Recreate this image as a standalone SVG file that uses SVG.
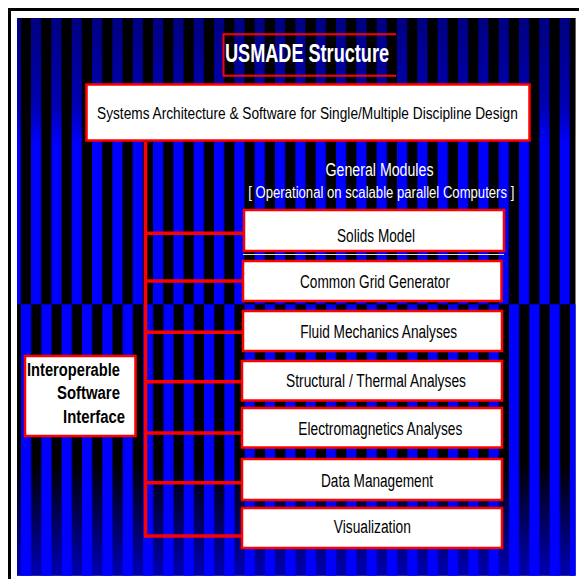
<svg xmlns="http://www.w3.org/2000/svg" width="579" height="579" viewBox="0 0 579 579">
<style>
.box{fill:#fff;stroke:#ff0000;stroke-width:2.5}
.t{font-family:"Liberation Sans",Arial,sans-serif;fill:#000}
.m{font-size:18px;text-anchor:middle}
.w{fill:#fff}
.conn{stroke:#ff0000;stroke-width:3.5;fill:none}
</style>
<defs>
<pattern id="pTop" patternUnits="userSpaceOnUse" x="10.667" y="0" width="20.333" height="20"><rect x="0" y="0" width="10.17" height="20" fill="#0000ff"/></pattern>
<pattern id="pBot" patternUnits="userSpaceOnUse" x="0.667" y="0" width="20.333" height="20"><rect x="0" y="0" width="10.17" height="20" fill="#0000ff"/></pattern>
<linearGradient id="gTop" x1="0" y1="18" x2="0" y2="145" gradientUnits="userSpaceOnUse"><stop offset="0" stop-color="#000" stop-opacity="0.5"/><stop offset="0.7" stop-color="#000" stop-opacity="0.3"/><stop offset="1" stop-color="#000" stop-opacity="0"/></linearGradient>
<linearGradient id="gBot" x1="0" y1="462" x2="0" y2="576" gradientUnits="userSpaceOnUse"><stop offset="0" stop-color="#0000ff" stop-opacity="0"/><stop offset="1" stop-color="#0000ff" stop-opacity="0.7"/></linearGradient>
</defs>
<rect x="0" y="0" width="579" height="579" fill="#fff"/>
<rect x="9.5" y="9.5" width="575" height="575" fill="none" stroke="#000" stroke-width="3"/>
<g id="background">
<rect x="17" y="18" width="558.5" height="557.7" fill="#000"/>
<rect x="17" y="18" width="558.5" height="286.3" fill="url(#pTop)"/>
<rect x="17" y="304.3" width="558.5" height="271.4" fill="url(#pBot)"/>
<rect x="17" y="18" width="558.5" height="127" fill="url(#gTop)"/>
<rect x="17" y="462" width="558.5" height="113.7" fill="url(#gBot)"/>
</g>
<g id="connectors">
<line class="conn" x1="145.5" y1="142" x2="145.5" y2="537.8"/>
<line class="conn" x1="144" y1="233.3" x2="243" y2="233.3"/>
<line class="conn" x1="144" y1="281" x2="242" y2="281"/>
<line class="conn" x1="144" y1="332.3" x2="242" y2="332.3"/>
<line class="conn" x1="144" y1="381.7" x2="241" y2="381.7"/>
<line class="conn" x1="144" y1="433" x2="241" y2="433"/>
<line class="conn" x1="144" y1="482.7" x2="241" y2="482.7"/>
<line class="conn" x1="144" y1="536" x2="241" y2="536"/>
</g>
<g id="title">
<path d="M396 34.3 H223.5 V75.8 H396" fill="none" stroke="#ff0000" stroke-width="2"/>
<text class="t w" x="225" y="61.5" font-size="25" font-weight="bold" textLength="164" lengthAdjust="spacingAndGlyphs">USMADE Structure</text>
</g>
<g id="systems">
<rect class="box" x="86.5" y="84.5" width="443" height="56" stroke-width="3"/>
<text class="t" transform="translate(97 118.5) scale(0.8 1)" x="0" y="0" font-size="17" textLength="526" lengthAdjust="spacingAndGlyphs">Systems Architecture &amp; Software for Single/Multiple Discipline Design</text>
</g>
<g id="general-modules">
<text class="t w" x="379.5" y="176" font-size="17.5" text-anchor="middle" textLength="108" lengthAdjust="spacingAndGlyphs">General Modules</text>
<text class="t w" x="248.3" y="198.3" font-size="16" textLength="266" lengthAdjust="spacingAndGlyphs">[ Operational on scalable parallel Computers ]</text>
</g>
<g id="solids-model">
<rect class="box" x="244" y="210" width="260" height="41"/>
<line x1="243" y1="254.5" x2="504" y2="254.5" stroke="#e0e0e0" stroke-width="1"/>
<text class="t m" x="376" y="241.7" textLength="78" lengthAdjust="spacingAndGlyphs">Solids Model</text>
</g>
<g id="common-grid">
<rect class="box" x="243" y="261" width="258.5" height="40"/>
<text class="t m" x="375" y="288.4" textLength="150" lengthAdjust="spacingAndGlyphs">Common Grid Generator</text>
</g>
<g id="fluid">
<rect class="box" x="243" y="311" width="259" height="40"/>
<text class="t m" x="378.7" y="337.7" textLength="157" lengthAdjust="spacingAndGlyphs">Fluid Mechanics Analyses</text>
</g>
<g id="structural">
<rect class="box" x="242" y="361" width="260" height="39.5"/>
<text class="t m" x="376" y="386.7" textLength="180" lengthAdjust="spacingAndGlyphs">Structural / Thermal Analyses</text>
</g>
<g id="electromagnetics">
<rect class="box" x="242" y="408" width="260" height="39.5"/>
<text class="t m" x="380.3" y="435" textLength="164" lengthAdjust="spacingAndGlyphs">Electromagnetics Analyses</text>
</g>
<g id="data-management">
<rect class="box" x="242" y="459" width="260" height="41"/>
<text class="t m" x="377" y="486.7" textLength="112" lengthAdjust="spacingAndGlyphs">Data Management</text>
</g>
<g id="visualization">
<rect class="box" x="242" y="508" width="260" height="40"/>
<text class="t m" x="372.3" y="533.3" textLength="77" lengthAdjust="spacingAndGlyphs">Visualization</text>
</g>
<g id="interoperable">
<rect class="box" x="25" y="356" width="110.5" height="80"/>
<text class="t" font-size="18" font-weight="bold" text-anchor="end">
<tspan x="125" y="376" textLength="93" lengthAdjust="spacingAndGlyphs">Interoperable</tspan>
<tspan x="125" y="399.3" textLength="63" lengthAdjust="spacingAndGlyphs">Software</tspan>
<tspan x="125" y="422.7" textLength="62" lengthAdjust="spacingAndGlyphs">Interface</tspan>
</text>
</g>
</svg>
